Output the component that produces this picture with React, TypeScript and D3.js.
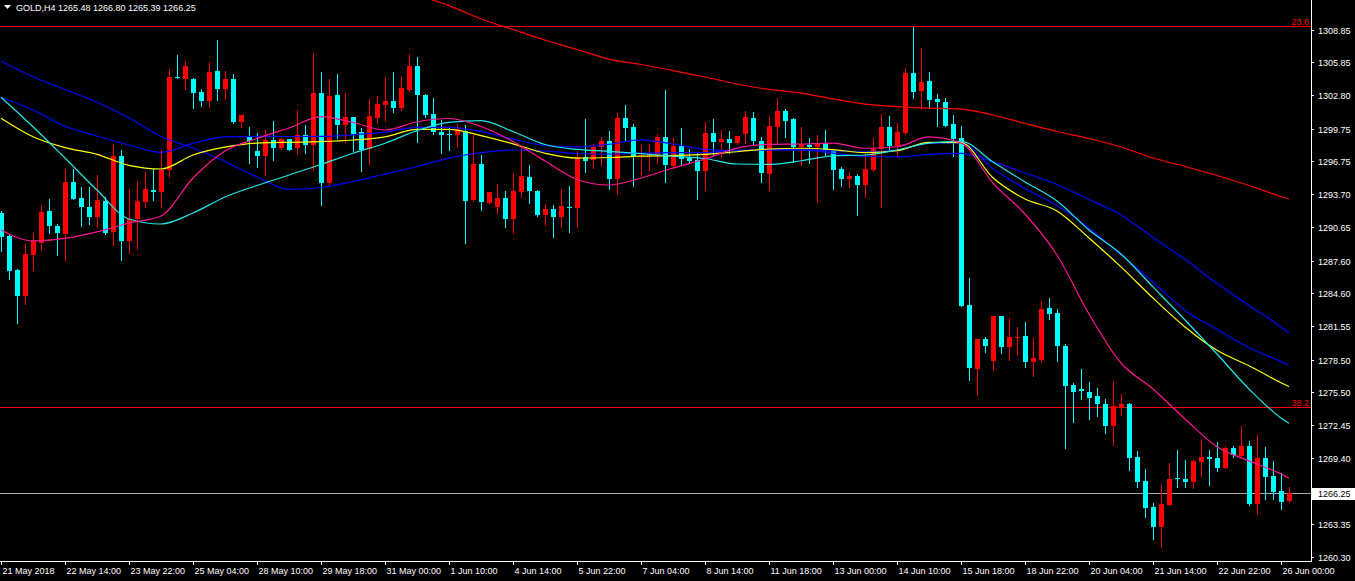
import React from "react";
import * as d3 from "d3";

const W = 1355;
const H = 581;

// ---- OHLC (GOLD, H4) ----
const open = [
  1291.96, 1289.87, 1286.74, 1284.35, 1288.12, 1289.25, 1292.14, 1290.79, 1290.05, 1294.84,
  1293.36, 1292.51, 1291.64, 1293.06, 1290.26, 1297.23, 1289.44, 1291.40, 1293.00, 1294.10,
  1293.92, 1295.94, 1304.52, 1304.34, 1304.34, 1303.12, 1302.32, 1305.02, 1303.42, 1304.28,
  1300.36, 1299.00, 1297.72, 1297.23, 1298.70, 1297.96, 1298.76, 1297.96, 1299.13, 1298.27,
  1303.00, 1294.72, 1302.84, 1300.08, 1300.79, 1299.44, 1297.84, 1300.72, 1301.95, 1302.32,
  1301.64, 1303.30, 1305.51, 1302.87, 1301.09, 1299.44, 1299.22, 1299.16, 1299.56, 1293.18,
  1296.49, 1292.93, 1292.56, 1293.36, 1291.46, 1293.94, 1295.32, 1294.04, 1291.83, 1292.32,
  1291.59, 1292.56, 1292.47, 1297.16, 1296.86, 1298.03, 1298.63, 1295.14, 1300.75, 1299.90,
  1297.23, 1297.23, 1297.23, 1299.00, 1296.31, 1298.15, 1297.11, 1296.86, 1295.88, 1299.37,
  1298.52, 1298.76, 1298.40, 1299.25, 1300.72, 1298.58, 1295.57, 1299.92, 1301.40, 1300.66,
  1298.08, 1298.21, 1298.08, 1298.40, 1297.66, 1296.06, 1295.14, 1295.39, 1294.59, 1295.94,
  1297.83, 1299.92, 1298.15, 1299.37, 1304.89, 1303.24, 1304.16, 1302.50, 1302.20, 1300.17,
  1298.88, 1283.52, 1277.63, 1280.39, 1278.40, 1282.54, 1279.68, 1280.55, 1280.67, 1278.28,
  1278.46, 1283.24, 1282.81, 1279.75, 1276.13, 1275.76, 1275.52, 1275.15, 1274.41, 1272.39,
  1274.16, 1274.41, 1269.51, 1267.30, 1264.91, 1263.12, 1265.15, 1267.60, 1267.48, 1267.23,
  1269.08, 1269.51, 1269.44, 1268.52, 1270.36, 1269.63, 1270.55, 1265.21, 1269.44, 1267.79,
  1266.44, 1265.48,
];
const high = [
  1292.20, 1290.00, 1286.80, 1289.13, 1290.17, 1292.75, 1293.24, 1290.97, 1296.00, 1296.00,
  1294.40, 1294.40, 1295.48, 1293.48, 1298.33, 1297.78, 1294.22, 1294.90, 1295.76, 1296.00,
  1297.78, 1305.20, 1306.55, 1306.00, 1304.40, 1303.36, 1305.88, 1307.90, 1305.02, 1304.77,
  1301.00, 1299.87, 1299.32, 1299.62, 1300.48, 1298.88, 1298.80, 1301.46, 1300.05, 1306.73,
  1304.96, 1304.34, 1304.77, 1303.05, 1300.85, 1299.80, 1302.44, 1302.75, 1304.47, 1304.96,
  1304.59, 1306.61, 1306.31, 1302.90, 1302.54, 1300.54, 1299.87, 1300.17, 1300.08, 1299.19,
  1297.32, 1293.94, 1294.65, 1294.04, 1295.69, 1298.08, 1296.40, 1294.10, 1292.81, 1292.75,
  1294.22, 1294.47, 1297.72, 1300.60, 1298.33, 1299.00, 1299.56, 1301.21, 1301.92, 1300.17,
  1298.24, 1298.33, 1299.25, 1303.30, 1298.88, 1299.80, 1297.84, 1297.53, 1300.36, 1300.60,
  1299.62, 1299.50, 1299.07, 1301.34, 1301.28, 1298.95, 1300.79, 1302.56, 1301.52, 1300.72,
  1299.92, 1298.88, 1299.19, 1299.62, 1297.78, 1296.19, 1295.76, 1295.57, 1297.41, 1298.87,
  1301.09, 1300.91, 1300.29, 1305.30, 1309.12, 1307.16, 1304.96, 1302.93, 1302.56, 1300.97,
  1299.99, 1286.00, 1280.39, 1280.55, 1282.54, 1282.54, 1282.35, 1281.52, 1281.96, 1280.48,
  1283.92, 1284.16, 1283.12, 1279.93, 1276.32, 1277.60, 1276.44, 1275.88, 1274.84, 1276.56,
  1275.33, 1274.48, 1270.06, 1268.40, 1265.28, 1266.99, 1269.01, 1270.18, 1269.26, 1269.26,
  1271.16, 1270.18, 1270.92, 1270.55, 1270.55, 1272.39, 1270.98, 1271.59, 1270.43, 1269.17,
  1268.09, 1266.80,
];
const low = [
  1288.52, 1285.88, 1281.89, 1283.61, 1286.74, 1288.58, 1290.17, 1288.12, 1287.66, 1293.30,
  1290.79, 1290.97, 1290.72, 1290.05, 1289.07, 1287.66, 1288.28, 1288.64, 1292.56, 1293.18,
  1292.51, 1295.32, 1304.40, 1303.42, 1301.64, 1301.83, 1301.76, 1302.38, 1302.50, 1300.29,
  1299.92, 1296.56, 1296.24, 1295.51, 1296.86, 1297.90, 1297.78, 1297.41, 1297.48, 1295.94,
  1292.69, 1294.53, 1298.86, 1298.54, 1297.66, 1295.88, 1296.49, 1300.29, 1300.48, 1301.28,
  1301.46, 1303.18, 1298.52, 1300.84, 1299.25, 1297.53, 1297.78, 1298.03, 1289.25, 1293.06,
  1292.26, 1292.88, 1292.01, 1290.72, 1290.17, 1293.48, 1292.93, 1291.71, 1290.85, 1289.80,
  1290.72, 1290.24, 1290.67, 1295.78, 1296.12, 1296.43, 1294.22, 1293.76, 1298.70, 1294.47,
  1295.51, 1295.94, 1296.61, 1294.86, 1296.12, 1296.37, 1296.61, 1293.24, 1294.10, 1297.29,
  1297.16, 1297.53, 1298.33, 1298.40, 1298.21, 1294.84, 1294.10, 1298.40, 1299.00, 1296.68,
  1296.37, 1296.61, 1292.96, 1297.35, 1294.22, 1294.47, 1294.35, 1291.83, 1293.43, 1295.85,
  1292.56, 1297.78, 1297.29, 1299.25, 1302.56, 1301.52, 1301.64, 1299.99, 1299.99, 1297.23,
  1283.43, 1276.62, 1275.27, 1279.22, 1277.54, 1279.13, 1278.46, 1278.95, 1277.84, 1276.99,
  1278.30, 1282.20, 1278.40, 1270.36, 1272.76, 1274.90, 1273.06, 1273.28, 1271.77, 1270.67,
  1273.43, 1268.34, 1266.80, 1264.04, 1261.96, 1261.28, 1265.15, 1266.80, 1266.80, 1266.68,
  1267.79, 1266.99, 1268.22, 1268.52, 1269.56, 1269.63, 1265.15, 1264.29, 1265.64, 1265.64,
  1264.78, 1265.39,
];
const close = [
  1289.80, 1286.68, 1284.35, 1288.21, 1289.38, 1292.08, 1290.79, 1290.17, 1294.84, 1293.30,
  1292.56, 1291.64, 1293.18, 1290.17, 1297.23, 1289.44, 1291.40, 1293.06, 1294.16, 1293.92,
  1295.94, 1304.52, 1304.45, 1305.51, 1303.05, 1302.32, 1304.96, 1303.42, 1304.28, 1300.36,
  1300.97, 1298.58, 1297.23, 1298.70, 1297.96, 1298.76, 1297.80, 1299.13, 1298.27, 1303.00,
  1294.77, 1302.75, 1300.08, 1300.79, 1299.25, 1297.78, 1300.91, 1302.01, 1302.32, 1301.64,
  1303.48, 1305.51, 1302.87, 1300.97, 1299.44, 1299.16, 1299.16, 1299.74, 1293.09, 1296.49,
  1293.00, 1293.94, 1293.36, 1291.46, 1294.01, 1295.39, 1294.04, 1291.83, 1292.32, 1291.59,
  1292.63, 1292.51, 1297.16, 1296.80, 1298.08, 1298.63, 1295.14, 1300.75, 1299.83, 1297.23,
  1297.29, 1297.41, 1299.00, 1296.40, 1298.15, 1296.92, 1296.74, 1295.88, 1299.37, 1298.54,
  1298.76, 1298.40, 1299.07, 1300.79, 1298.63, 1295.69, 1299.99, 1301.34, 1300.48, 1298.08,
  1298.33, 1298.08, 1298.40, 1297.66, 1295.94, 1295.14, 1295.39, 1294.59, 1296.06, 1297.83,
  1299.92, 1298.15, 1299.44, 1304.89, 1303.14, 1304.04, 1302.38, 1302.20, 1299.99, 1298.76,
  1283.43, 1277.75, 1280.39, 1279.75, 1282.54, 1279.68, 1280.58, 1280.58, 1278.28, 1278.64,
  1283.12, 1282.69, 1279.75, 1276.07, 1275.52, 1275.58, 1274.96, 1274.41, 1272.39, 1274.23,
  1274.41, 1269.44, 1267.23, 1264.84, 1263.12, 1265.21, 1267.48, 1267.48, 1267.23, 1269.14,
  1269.51, 1269.38, 1268.52, 1270.36, 1269.69, 1270.55, 1265.21, 1269.44, 1267.72, 1266.32,
  1265.40, 1266.25,
];

// ---- Moving averages, sampled every 4 bars (last sample = last bar) ----
const maPink = [
  1290.42, 1289.41, 1289.64, 1290.24, 1291.06, 1291.71, 1295.20, 1297.69, 1298.84, 1299.80,
  1300.86, 1300.31, 1299.62, 1300.38, 1300.68, 1299.94, 1298.56, 1296.77, 1295.07, 1294.56,
  1295.20, 1296.12, 1296.95, 1297.96, 1298.29, 1298.33, 1298.42, 1297.94, 1298.08, 1298.98,
  1298.42, 1294.74, 1291.89, 1288.12, 1282.69, 1278.18, 1275.79, 1273.03, 1270.48, 1269.17,
  1267.97, 1267.58,
];
const maCyan = [
  1302.63, 1299.92, 1297.04, 1294.10, 1291.43, 1290.97, 1291.98, 1293.46, 1294.51, 1295.48,
  1296.45, 1297.48, 1298.40, 1299.56, 1300.33, 1300.48, 1299.48, 1298.29, 1297.83, 1297.66,
  1297.45, 1297.22, 1297.00, 1296.49, 1296.45, 1296.79, 1297.24, 1297.32, 1297.78, 1298.42,
  1298.58, 1296.68, 1294.84, 1293.09, 1290.42, 1288.21, 1285.18, 1282.14, 1279.01, 1275.79,
  1273.12, 1272.64,
];
const maYellow = [
  1300.70, 1299.00, 1298.00, 1297.38, 1296.37, 1296.03, 1297.32, 1298.04, 1298.41, 1298.49,
  1298.55, 1298.70, 1298.99, 1299.68, 1299.68, 1299.10, 1298.35, 1297.48, 1297.04, 1297.09,
  1297.21, 1297.27, 1297.38, 1297.62, 1297.87, 1297.94, 1297.82, 1297.54, 1297.72, 1298.49,
  1298.45, 1295.22, 1293.27, 1292.17, 1289.68, 1287.02, 1284.16, 1281.50, 1279.35, 1277.93,
  1276.36, 1276.00,
];
const maBlueFast = [
  1302.63, 1301.46, 1299.96, 1299.07, 1298.24, 1297.56, 1298.39, 1298.98, 1299.03, 1299.02,
  1299.03, 1299.18, 1299.42, 1299.87, 1299.87, 1299.50, 1298.78, 1298.19, 1298.06, 1298.31,
  1298.71, 1298.33, 1297.83, 1297.72, 1297.80, 1297.81, 1297.70, 1297.62, 1297.78, 1298.40,
  1298.44, 1296.06, 1294.24, 1292.67, 1290.60, 1288.14, 1285.64, 1283.02, 1281.28, 1279.58,
  1278.31, 1277.97,
];
const maBlueSlow = [
  1305.97, 1304.52, 1303.35, 1302.17, 1300.72, 1299.02, 1297.96, 1296.72, 1295.30, 1294.16,
  1294.33, 1294.88, 1295.57, 1296.26, 1297.04, 1297.53, 1297.78, 1297.69, 1297.46, 1297.41,
  1297.50, 1297.53, 1297.53, 1297.76, 1297.78, 1297.78, 1297.50, 1297.18, 1297.14, 1297.37,
  1297.47, 1296.69, 1295.66, 1294.61, 1293.23, 1291.80, 1289.73, 1287.72, 1285.49, 1283.47,
  1281.50, 1280.92,
];
// long MA: starts at sample 13 (bar 52)
const maRedFirstSample = 13;
const maRed = [
  1312.04, 1311.07, 1309.83, 1308.87, 1307.90, 1307.03, 1306.15, 1305.65, 1305.09, 1304.50,
  1303.85, 1303.35, 1303.02, 1302.47, 1302.01, 1301.78, 1301.64, 1301.55, 1301.00, 1300.22,
  1299.48, 1298.84, 1298.06, 1297.04, 1296.26, 1295.43, 1294.51, 1293.50, 1293.27,
];

const xLabels = [
  "21 May 2018", "22 May 14:00", "23 May 22:00", "25 May 04:00", "28 May 10:00",
  "29 May 18:00", "31 May 00:00", "1 Jun 10:00", "4 Jun 14:00", "5 Jun 22:00",
  "7 Jun 04:00", "8 Jun 14:00", "11 Jun 18:00", "13 Jun 00:00", "14 Jun 10:00",
  "15 Jun 18:00", "18 Jun 22:00", "20 Jun 04:00", "21 Jun 14:00", "22 Jun 22:00",
  "26 Jun 00:00",
];
const yTicks = [
  1308.85, 1305.85, 1302.8, 1299.75, 1296.75, 1293.7, 1290.65, 1287.6, 1284.6,
  1281.55, 1278.5, 1275.5, 1272.45, 1269.4, 1263.35, 1260.3,
];
const fibLevels = [
  { label: "23.6", value: 1309.21 },
  { label: "38.2", value: 1274.13 },
];
const symbol = "GOLD,H4";
const lastPrice = 1266.25;

const FONT = "'Liberation Sans', Arial, sans-serif";
const UP = "#FF0000";
const DOWN = "#00FFFF";

export default function App() {
  const n = close.length;
  const plotRight = 1311;
  const plotBottom = 561;

  const x = d3.scaleLinear().domain([0, n - 1]).range([1, 1289]);
  const y = d3.scaleLinear().domain([1260.3, 1308.85]).range([557.3, 29.7]);

  const maBars = d3.range(0, n - 1, 4).concat([n - 1]);

  const line = d3
    .line<[number, number]>()
    .x((d) => x(d[0]))
    .y((d) => y(d[1]))
    .curve(d3.curveMonotoneX);

  const series = [
    { vals: maBlueSlow, color: "#0000FF", start: 0 },
    { vals: maBlueFast, color: "#0000FF", start: 0 },
    { vals: maYellow, color: "#FFFF00", start: 0 },
    { vals: maCyan, color: "#20E8E8", start: 0 },
    { vals: maPink, color: "#FF1493", start: 0 },
    { vals: maRed, color: "#FF0000", start: maRedFirstSample },
  ];

  const ly = Math.round(y(lastPrice));

  return (
    <svg
      width={W}
      height={H}
      style={{ position: "fixed", left: 0, top: 0, background: "#000" }}
    >
      <defs>
        <clipPath id="plot">
          <rect x={0} y={0} width={plotRight} height={plotBottom} />
        </clipPath>
      </defs>
      <rect x={0} y={0} width={W} height={H} fill="#000" />

      <g clipPath="url(#plot)">
        {/* bid line */}
        <line
          x1={0}
          x2={plotRight}
          y1={ly + 0.5}
          y2={ly + 0.5}
          stroke="#a8a8a8"
          strokeWidth={1}
          shapeRendering="crispEdges"
        />
        {/* fibonacci levels */}
        {fibLevels.map((f) => {
          const fy = Math.round(y(f.value)) + 0.5;
          return (
            <g key={f.label}>
              <line
                x1={0}
                x2={plotRight}
                y1={fy}
                y2={fy}
                stroke="#FF0000"
                strokeWidth={1}
                shapeRendering="crispEdges"
              />
              <text
                x={1309}
                y={fy - 2}
                fill="#FF0000"
                fontFamily={FONT}
                fontSize={9}
                textAnchor="end"
              >
                {f.label}
              </text>
            </g>
          );
        })}

        {/* candles */}
        {close.map((c, i) => {
          const o = open[i];
          const col = c >= o ? UP : DOWN;
          const cx = Math.round(x(i));
          const yo = y(o);
          const yc = y(c);
          const top = Math.round(Math.min(yo, yc));
          const bot = Math.round(Math.max(yo, yc));
          const hTop = Math.round(y(high[i]));
          const lBot = Math.round(y(low[i]));
          return (
            <g key={i} shapeRendering="crispEdges">
              <line
                x1={cx + 0.5}
                x2={cx + 0.5}
                y1={hTop}
                y2={lBot + 1}
                stroke={col}
                strokeWidth={1}
              />
              <rect
                x={cx - 2}
                y={top}
                width={5}
                height={Math.max(1, bot - top)}
                fill={col}
              />
            </g>
          );
        })}

        {/* moving averages */}
        {series.map((s, si) => {
          const pts: [number, number][] = s.vals.map((v, j) => [
            maBars[j + s.start],
            v,
          ]);
          return (
            <path
              key={si}
              d={line(pts) || ""}
              fill="none"
              stroke={s.color}
              strokeWidth={1.2}
            />
          );
        })}
      </g>

      {/* header */}
      <polygon points="4,5 11,5 7.5,9" fill="#FFFFFF" />
      <text x={16} y={11} fill="#FFFFFF" fontFamily={FONT} fontSize={9}>
        {`${symbol}  ${open[n - 1].toFixed(2)} ${high[n - 1].toFixed(2)} ${low[n - 1].toFixed(2)} ${close[n - 1].toFixed(2)}`}
      </text>

      {/* axes */}
      <line
        x1={plotRight + 0.5}
        x2={plotRight + 0.5}
        y1={0}
        y2={plotBottom + 1}
        stroke="#FFFFFF"
        shapeRendering="crispEdges"
      />
      <line
        x1={0}
        x2={plotRight + 1}
        y1={plotBottom + 0.5}
        y2={plotBottom + 0.5}
        stroke="#FFFFFF"
        shapeRendering="crispEdges"
      />

      {yTicks.map((t) => {
        const ty = Math.round(y(t)) + 0.5;
        return (
          <g key={t}>
            <line
              x1={plotRight + 1}
              x2={plotRight + 3}
              y1={ty}
              y2={ty}
              stroke="#FFFFFF"
              shapeRendering="crispEdges"
            />
            <text
              x={1318}
              y={ty + 3.5}
              fill="#FFFFFF"
              fontFamily={FONT}
              fontSize={9}
            >
              {t.toFixed(2)}
            </text>
          </g>
        );
      })}

      {/* last price box */}
      <line
        x1={plotRight + 1}
        x2={plotRight + 3}
        y1={ly + 0.5}
        y2={ly + 0.5}
        stroke="#FFFFFF"
        shapeRendering="crispEdges"
      />
      <rect x={1312} y={ly - 5} width={43} height={12} fill="#FFFFFF" />
      <text x={1318} y={ly + 4} fill="#000000" fontFamily={FONT} fontSize={9}>
        {lastPrice.toFixed(2)}
      </text>

      {xLabels.map((lab, i) => {
        const tx = Math.round(x(i * 8)) + 0.5;
        return (
          <g key={lab}>
            <line
              x1={tx}
              x2={tx}
              y1={plotBottom + 1}
              y2={plotBottom + 4}
              stroke="#FFFFFF"
              shapeRendering="crispEdges"
            />
            <text
              x={tx + 1}
              y={573.5}
              fill="#FFFFFF"
              fontFamily={FONT}
              fontSize={9}
            >
              {lab}
            </text>
          </g>
        );
      })}
    </svg>
  );
}
